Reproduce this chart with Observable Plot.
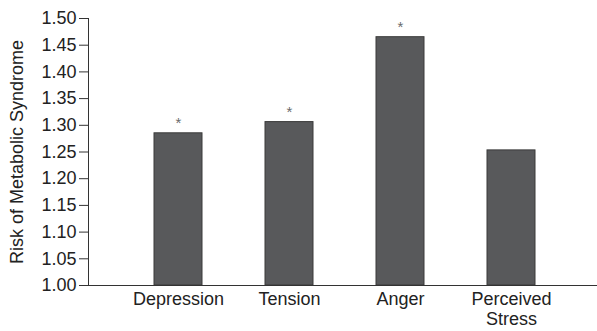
<!DOCTYPE html>
<html>
<head>
<meta charset="utf-8">
<script src="https://cdn.jsdelivr.net/npm/d3@7"></script>
<script src="https://cdn.jsdelivr.net/npm/@observablehq/plot@0.6"></script>
<style>
  html, body { margin: 0; padding: 0; background: #fff; }
  #chart svg { display: block; }
</style>
</head>
<body>
<div id="chart"></div>
<script>
// Relative risk of metabolic syndrome by psychological factor
const categories = ["Depression", "Tension", "Anger", "Perceived Stress"];
const categoryLabels = ["Depression", "Tension", "Anger", "Perceived\nStress"];
const riskValues = [1.285, 1.306, 1.465, 1.253];
const significant = [true, true, true, false];
const yTicks = [1.00, 1.05, 1.10, 1.15, 1.20, 1.25, 1.30, 1.35, 1.40, 1.45, 1.50];

const rows = categories.map((c, i) => ({
  category: c,
  risk: riskValues[i],
  sig: significant[i]
}));
const labelOf = new Map(categories.map((c, i) => [c, categoryLabels[i]]));

const chart = Plot.plot({
  width: 597,
  height: 331,
  marginLeft: 88,
  marginRight: 0,
  marginTop: 18,
  marginBottom: 46,
  style: {
    fontFamily: "'Liberation Sans', Arial, Helvetica, sans-serif",
    fontSize: "18px",
    color: "#222",
    background: "#fff"
  },
  x: {domain: categories, range: [152, 536], paddingInner: 0.57, paddingOuter: 0},
  y: {domain: [1, 1.5]},
  marks: [
    Plot.barY(rows, {x: "category", y1: 1, y2: "risk", fill: "#58595b", stroke: "#3a3a3a", strokeWidth: 1}),
    Plot.text(rows.filter(d => d.sig), {x: "category", y: "risk", text: () => "*", dy: -10, fill: "#6a6a6a", fontSize: 15}),
    Plot.frame({anchor: "left", stroke: "#333"}),
    Plot.ruleY([1], {stroke: "#333"}),
    Plot.axisY({
      ticks: yTicks,
      tickFormat: d => d.toFixed(2),
      tickSize: 9,
      tickPadding: 3,
      stroke: "#333",
      label: "Risk of Metabolic Syndrome",
      labelAnchor: "center",
      labelArrow: "none",
      labelOffset: 78
    }),
    Plot.axisX({
      tickSize: 0,
      tickPadding: 5,
      lineHeight: 1.12,
      tickFormat: d => labelOf.get(d),
      label: null
    })
  ]
});

document.getElementById("chart").appendChild(chart);
</script>
</body>
</html>
